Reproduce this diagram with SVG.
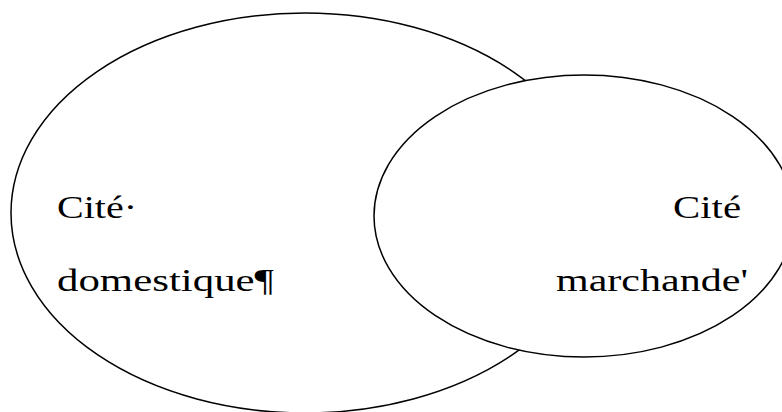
<svg xmlns="http://www.w3.org/2000/svg" width="782" height="412" viewBox="0 0 782 412">
<style>
.shape{fill:#fff;stroke:#000;stroke-width:1.5}
.lbl{font-family:"Liberation Serif","Times New Roman",serif;font-size:32px;fill:#000}
</style>
<rect width="782" height="412" fill="#fff"/>
<g id="cite-domestique">
<ellipse class="shape" cx="305" cy="213" rx="294" ry="200"/>
</g>
<g id="cite-marchande">
<ellipse class="shape" cx="584" cy="216" rx="210" ry="141"/>
</g>
<g id="labels">
<text class="lbl" x="57" y="218" textLength="80" lengthAdjust="spacingAndGlyphs">Cité·</text>
<text class="lbl" x="57" y="291" textLength="217" lengthAdjust="spacingAndGlyphs">domestique¶</text>
<text class="lbl" x="673" y="218" textLength="68" lengthAdjust="spacingAndGlyphs">Cité</text>
<text class="lbl" x="556" y="291" textLength="192" lengthAdjust="spacingAndGlyphs">marchande'</text>
</g>
</svg>
